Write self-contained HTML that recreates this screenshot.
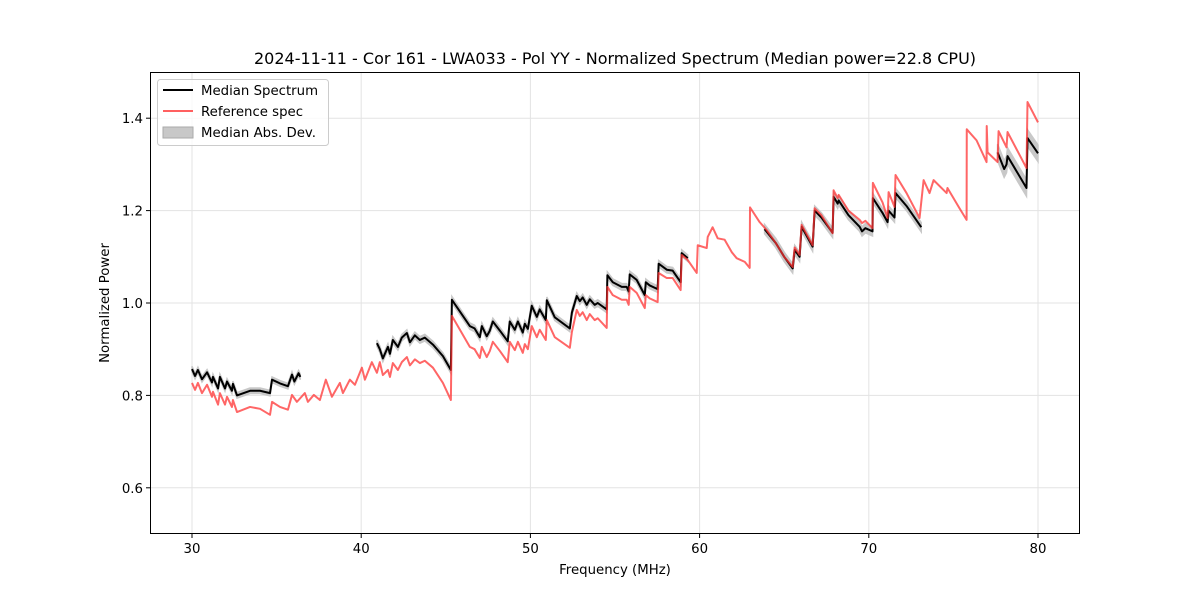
<!DOCTYPE html>
<html><head><meta charset="utf-8">
<style>
html,body{margin:0;padding:0;background:#fff;}
svg{display:block;font-family:"DejaVu Sans","Liberation Sans",sans-serif;}
</style></head>
<body>
<svg id="chart" width="1200" height="600" viewBox="0 0 1200 600" xmlns="http://www.w3.org/2000/svg">
<rect x="0" y="0" width="1200" height="600" fill="#fff"/>
<g id="grid"></g>
<g id="marks"></g>
<rect x="150.5" y="72.5" width="929" height="461" fill="none" stroke="#000" stroke-width="1"/>
<g id="ticks"></g>
<text x="615" y="64" font-size="16" text-anchor="middle">2024-11-11 - Cor 161 - LWA033 - Pol YY - Normalized Spectrum (Median power=22.8 CPU)</text>
<text x="615" y="574" font-size="13.3" text-anchor="middle">Frequency (MHz)</text>
<text x="109" y="303" font-size="13.3" text-anchor="middle" transform="rotate(-90 109 303)">Normalized Power</text>
<g>
<rect x="157.5" y="79.5" width="171" height="66" rx="3" fill="#fff" fill-opacity="0.8" stroke="#ccc"/>
<g><line x1="163" y1="90" x2="193" y2="90" stroke="#000" stroke-width="2"/><text x="201" y="95" font-size="13.3">Median Spectrum</text></g>
<g><line x1="163" y1="111" x2="193" y2="111" stroke="#ff6060" stroke-width="2"/><text x="201" y="116" font-size="13.3">Reference spec</text></g>
<g><rect x="163" y="127" width="30" height="11" fill="#c8c8c8" stroke="#aaa"/><text x="201" y="137" font-size="13.3">Median Abs. Dev.</text></g>
</g>
</svg>
<script>
const xTicks=[30,40,50,60,70,80];
const yTicks=[0.6,0.8,1.0,1.2,1.4];
const yTickLabels=["0.6","0.8","1.0","1.2","1.4"];
const refSpec=[[30,0.827],[30.18,0.812],[30.35,0.827],[30.59,0.805],[30.89,0.823],[31.18,0.797],[31.24,0.808],[31.54,0.78],[31.65,0.805],[31.95,0.78],[32.07,0.797],[32.36,0.775],[32.42,0.79],[32.66,0.764],[33.43,0.775],[34.02,0.771],[34.61,0.758],[34.73,0.786],[35.2,0.775],[35.67,0.769],[35.91,0.801],[36.2,0.786],[36.67,0.805],[36.85,0.786],[37.2,0.801],[37.56,0.79],[37.91,0.834],[38.27,0.797],[38.74,0.827],[38.92,0.805],[39.33,0.834],[39.63,0.823],[40.04,0.86],[40.22,0.834],[40.63,0.872],[40.93,0.849],[41.1,0.872],[41.28,0.844],[41.58,0.855],[41.7,0.84],[41.87,0.87],[42.17,0.855],[42.4,0.872],[42.7,0.883],[42.88,0.865],[43.17,0.878],[43.47,0.87],[43.76,0.875],[44.24,0.86],[44.83,0.827],[45.3,0.79],
[45.36,0.972],[46.42,0.905],[46.7,0.9],[47.01,0.881],[47.13,0.905],[47.42,0.883],[47.6,0.896],[47.78,0.916],[48.2,0.896],[48.66,0.872],[48.78,0.916],[49.08,0.898],[49.26,0.916],[49.55,0.892],[49.67,0.911],[49.85,0.9],[50.08,0.95],[50.38,0.926],[50.55,0.942],[50.91,0.92],[50.97,0.963],[51.44,0.926],[52.33,0.903],[52.45,0.937],[52.74,0.985],[52.92,0.972],[53.09,0.98],[53.33,0.963],[53.51,0.976],[53.8,0.963],[53.98,0.967],[54.51,0.946],[54.55,1.035],[54.87,1.017],[55.4,1.007],[55.69,1.007],[55.81,0.996],[55.87,1.035],[56.28,1.022],[56.76,0.989],[56.82,1.017],[57.05,1.01],[57.52,1.002],[57.58,1.065],[58.06,1.054],[58.41,1.054],[58.88,1.028],[58.94,1.104],[59.3,1.093],[59.83,1.065],[59.89,1.125],[60.42,1.119],[60.48,1.143],[60.77,1.164],[61.07,1.14],[61.48,1.137],[61.9,1.11],[62.19,1.097],[62.67,1.089],[62.96,1.076],[62.98,1.207],[63.55,1.175],[63.96,1.158],[64.5,1.13],[65.0,1.1],[65.5,1.078],[65.62,1.12],[65.91,1.104],[66.03,1.169],[66.68,1.125],[66.8,1.205],[67.2,1.19],[67.86,1.151],[67.92,1.244],[68.16,1.227],[68.22,1.234],[68.8,1.2],[69.46,1.18],[69.6,1.173],[69.8,1.178],[70.22,1.162],[70.24,1.26],[70.81,1.218],[71.11,1.184],[71.17,1.24],[71.52,1.208],[71.58,1.277],[72.23,1.238],[73.0,1.184],[73.24,1.266],[73.59,1.238],[73.83,1.266],[74.6,1.238],[74.65,1.249],[75.36,1.205],[75.78,1.18],[75.79,1.376],[76.37,1.352],[76.96,1.305],[76.97,1.383],[77.02,1.326],[77.61,1.305],[77.67,1.372],[78.14,1.337],[78.2,1.37],[79.32,1.292],[79.38,1.435],[80.0,1.391]];
const medianSeg1=[[30,0.857],[30.18,0.842],[30.35,0.855],[30.59,0.835],[30.89,0.85],[31.18,0.828],[31.24,0.84],[31.54,0.815],[31.65,0.84],[31.95,0.815],[32.07,0.83],[32.36,0.81],[32.42,0.825],[32.66,0.8],[33.43,0.81],[34.02,0.81],[34.61,0.805],[34.73,0.834],[35.2,0.826],[35.67,0.82],[35.91,0.845],[36.05,0.83],[36.3,0.848],[36.4,0.84]];
const medianSeg2=[[40.93,0.913],[41.1,0.9],[41.28,0.88],[41.58,0.905],[41.7,0.89],[41.87,0.92],[42.17,0.905],[42.4,0.925],[42.7,0.935],[42.88,0.915],[43.17,0.93],[43.47,0.92],[43.76,0.925],[44.24,0.91],[44.83,0.885],[45.3,0.855],[45.36,1.007],[46.42,0.95],[46.7,0.945],[47.01,0.926],[47.13,0.95],[47.42,0.928],[47.6,0.94],[47.78,0.96],[48.2,0.94],[48.66,0.917],[48.78,0.96],[49.08,0.942],[49.26,0.96],[49.55,0.936],[49.67,0.955],[49.85,0.944],[50.08,0.994],[50.38,0.97],[50.55,0.986],[50.91,0.963],[50.97,1.006],[51.44,0.969],[52.33,0.945],[52.45,0.979],[52.74,1.015],[52.92,1.004],[53.09,1.012],[53.33,0.996],[53.51,1.008],[53.8,0.996],[53.98,1.0],[54.51,0.986],[54.55,1.06],[54.87,1.045],[55.4,1.035],[55.69,1.035],[55.81,1.025],[55.87,1.062],[56.28,1.05],[56.76,1.017],[56.82,1.045],[57.05,1.038],[57.52,1.03],[57.58,1.085],[58.06,1.072],[58.41,1.07],[58.88,1.045],[58.94,1.108],[59.3,1.097]];
const medianSeg3=[[63.84,1.16],[64.5,1.13],[65.0,1.1],[65.5,1.075],[65.62,1.115],[65.91,1.1],[66.03,1.165],[66.68,1.122],[66.8,1.2],[67.2,1.185],[67.86,1.152],[67.92,1.23],[68.16,1.215],[68.22,1.222],[68.8,1.19],[69.46,1.165],[69.6,1.155],[69.8,1.162],[70.22,1.155],[70.24,1.227],[70.81,1.195],[71.11,1.175],[71.17,1.2],[71.52,1.185],[71.58,1.238],[72.23,1.21],[73.1,1.164]];
const medianSeg4=[[77.61,1.326],[78.0,1.29],[78.14,1.3],[78.2,1.318],[79.32,1.249],[79.38,1.357],[80.0,1.324]];
const madWidths=[0.006,0.007,0.01,0.018];

const NS="http://www.w3.org/2000/svg";
const X0=150,X1=1080,Y0=72,Y1=534;
function xs(f){return 192+(f-30)*(1038-192)/50;}
function ys(v){return 534-(v-0.5)*(534-72)/1.0;}
const grid=document.getElementById('grid'),ticks=document.getElementById('ticks'),marks=document.getElementById('marks');
function mk(tag,attrs,parent){const e=document.createElementNS(NS,tag);for(const k in attrs)e.setAttribute(k,attrs[k]);parent.appendChild(e);return e;}
xTicks.forEach(t=>{const x=xs(t);
 const g=mk('line',{x1:x,y1:Y0,x2:x,y2:Y1,stroke:'#e3e3e3','stroke-width':1},grid);
 
 
 const tk=mk('line',{x1:x,y1:Y1,x2:x,y2:Y1+4,stroke:'#000'},ticks);
 
 
 const tx=mk('text',{x:x,y:Y1+19,'font-size':13.3,'text-anchor':'middle'},ticks);tx.textContent=String(t);
 
 
});
yTicks.forEach((t,i)=>{const y=ys(t);
 const g=mk('line',{x1:X0,y1:y,x2:X1,y2:y,stroke:'#e3e3e3','stroke-width':1},grid);
 
 
 const tk=mk('line',{x1:X0-4,y1:y,x2:X0,y2:y,stroke:'#000'},ticks);
 
 
 const tx=mk('text',{x:X0-7,y:y+5,'font-size':13.3,'text-anchor':'end'},ticks);tx.textContent=yTickLabels[i];
 
 
});
const segs=[medianSeg1,medianSeg2,medianSeg3,medianSeg4];
segs.forEach((s,i)=>{const w=madWidths[i];
 const up=s.map(p=>xs(p[0])+','+ys(p[1]+w)).join(' ');
 const dn=s.slice().reverse().map(p=>xs(p[0])+','+ys(p[1]-w)).join(' ');
 const b=mk('polygon',{points:up+' '+dn,fill:'#c8c8c8',stroke:'#c8c8c8','stroke-width':1.5},marks);
 
 
});
segs.forEach(s=>{
 const l=mk('polyline',{points:s.map(p=>xs(p[0])+','+ys(p[1])).join(' '),fill:'none',stroke:'#000','stroke-width':2,'stroke-linejoin':'round'},marks);
 
 
});
const r=mk('polyline',{points:refSpec.map(p=>xs(p[0])+','+ys(p[1])).join(' '),fill:'none',stroke:'#ff3333','stroke-opacity':0.75,'stroke-width':2,'stroke-linejoin':'round'},marks);


</script>
</body></html>
